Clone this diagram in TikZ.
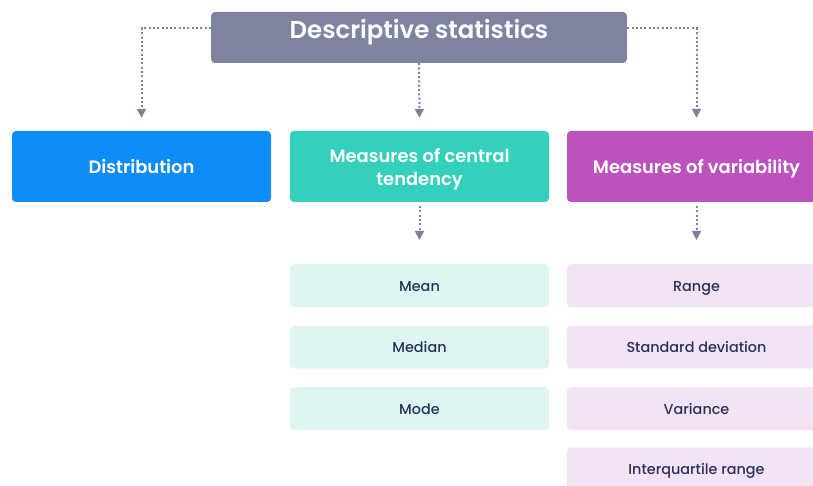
\documentclass[tikz,border=0pt]{standalone}
\usepackage{fontspec}
\setmainfont{Poppins}
\newfontfamily\headfont{Poppins}[UprightFont={* SemiBold}]
\newfontfamily\itemfont{Poppins}[UprightFont={* Medium}]
\usetikzlibrary{arrows.meta, positioning}
\definecolor{topgray}{RGB}{126,132,160}
\definecolor{distblue}{RGB}{12,140,245}
\definecolor{centteal}{RGB}{52,208,188}
\definecolor{varpurple}{RGB}{188,82,190}
\definecolor{tealsoft}{RGB}{223,245,241}
\definecolor{purplesoft}{RGB}{244,226,245}
\definecolor{inknavy}{RGB}{40,50,90}
\definecolor{linkgray}{RGB}{125,130,155}

\begin{document}
\begin{tikzpicture}[
    x=1pt, y=-1pt,
    node distance=18pt,
    titlebox/.style={fill=topgray, rounded corners=4pt, text=white,
                     minimum width=416pt, minimum height=51pt,
                     text height=13pt, text depth=11pt,
                     font=\headfont\fontsize{24.4}{28}\selectfont},
    headbox/.style={rounded corners=4pt, text=white, align=center,
                    minimum width=259pt, minimum height=71pt,
                    text height=15pt, text depth=0pt,
                    font=\headfont\fontsize{17.9}{23}\selectfont},
    itembox/.style={rounded corners=4pt, text=inknavy,
                    minimum width=259pt, minimum height=43pt,
                    text height=11pt, text depth=0pt,
                    font=\itemfont\fontsize{14.4}{16}\selectfont},
    link/.style={-{Triangle[length=9pt, width=9pt]}, linkgray,
                 line width=2pt, dash pattern=on 2pt off 2.3pt},
  ]
    \clip (0,0) rectangle (813,486);
    \useasboundingbox (0,0) rectangle (813,486);

    \node[titlebox] (title) at (419,37.5) {Descriptive statistics};

    % second row
    \node[headbox, fill=distblue]  (dist) at (141.5,166.5) {Distribution};
    \node[headbox, fill=centteal, text height=38pt] (cent) at (419.5,166.5)
      {Measures of central\\tendency};
    \node[headbox, fill=varpurple] (vari) at (696.5,166.5) {Measures of variability};

    % lists under the two measures
    \node[itembox, fill=tealsoft, anchor=north] (mean) at (419.5,264) {Mean};
    \node[itembox, fill=tealsoft, below=of mean]   (median) {Median};
    \node[itembox, fill=tealsoft, below=of median] (mode)   {Mode};

    \node[itembox, fill=purplesoft, anchor=north] (range) at (696.5,264) {Range};
    \node[itembox, fill=purplesoft, below=of range] (sd)  {Standard deviation};
    \node[itembox, fill=purplesoft, below=of sd]    (var) {Variance};
    \node[itembox, fill=purplesoft, below=17pt of var] (iqr) {Interquartile range};

    \draw[link, shorten >=13pt] ([yshift=9pt]title.west) -| (dist.north);
    \draw[link, shorten >=13pt] (title.south) -- (cent.north);
    \draw[link, shorten >=13pt] ([yshift=9pt]title.east) -| (vari.north);
    \draw[link, shorten <=4pt, shorten >=24pt] (cent.south) -- (mean.north);
    \draw[link, shorten <=4pt, shorten >=24pt] (vari.south) -- (range.north);
  \end{tikzpicture}
\end{document}
